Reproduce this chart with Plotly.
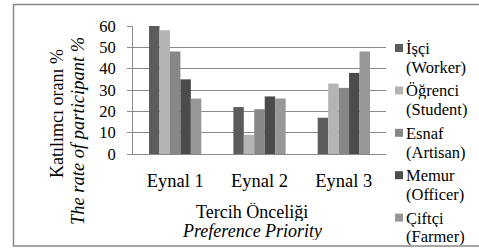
import plotly.graph_objects as go

categories = ["Eynal 1", "Eynal 2", "Eynal 3"]
series_tr = ["İşçi", "Öğrenci", "Esnaf", "Memur", "Çiftçi"]
series_en = ["(Worker)", "(Student)", "(Artisan)", "(Officer)", "(Farmer)"]
isci = [60, 22, 17]
ogrenci = [58, 9, 33]
esnaf = [48, 21, 31]
memur = [35, 27, 38]
ciftci = [26, 26, 48]
y_ticks = [0, 10, 20, 30, 40, 50, 60]

values = [isci, ogrenci, esnaf, memur, ciftci]
colors = ["#5c5c5c", "#b4b4b4", "#878787", "#4b4b4b", "#979797"]

W, H = 479, 249
L, R, T, B = 133, 93, 26, 95
pw, ph = W - L - R, H - T - B

def px(x):
    return (x - L) / pw

def py(y):
    return (H - B - y) / ph

FONT = "Liberation Serif"

fig = go.Figure()
for tr, en, vals, c in zip(series_tr, series_en, values, colors):
    fig.add_trace(go.Bar(x=categories, y=vals, name=f"{tr} {en}",
                         marker=dict(color=c, line=dict(width=0))))

fig.update_layout(
    width=W, height=H,
    margin=dict(l=L, r=R, t=T, b=B, pad=0, autoexpand=False),
    paper_bgcolor="white", plot_bgcolor="white",
    barmode="group", bargap=0.38, bargroupgap=0,
    font=dict(family=FONT, size=16, color="black"),
    showlegend=False,
    xaxis=dict(showgrid=False, showline=True, linecolor="#8a8a8a", linewidth=1,
               ticks="", tickfont=dict(family=FONT, size=18.5, color="black"),
               ticklabelstandoff=10, fixedrange=True),
    yaxis=dict(range=[0, 60], tickvals=y_ticks, showgrid=True, gridcolor="#8a8a8a",
               gridwidth=1, showline=True, linecolor="#8a8a8a", linewidth=1,
               ticks="outside", ticklen=5, tickcolor="#8a8a8a",
               tickfont=dict(family=FONT, size=16.5, color="black"),
               ticklabelstandoff=8, zeroline=False, fixedrange=True),
)

# legend drawn as text + swatches, built from the series lists
for i, (tr, en, c) in enumerate(zip(series_tr, series_en, colors)):
    y0 = 48 + i * 42.4
    fig.add_shape(type="rect", xref="paper", yref="paper",
                  x0=px(395), x1=px(403), y0=py(y0 + 4), y1=py(y0 - 4),
                  line=dict(width=0), fillcolor=c)
    fig.add_annotation(text=tr, xref="paper", yref="paper", x=px(404), y=py(y0),
                       showarrow=False, xanchor="left", yanchor="middle", height=18,
                       font=dict(family=FONT, size=16.5, color="black"))
    fig.add_annotation(text=en, xref="paper", yref="paper", x=px(404), y=py(y0 + 18.8),
                       showarrow=False, xanchor="left", yanchor="middle", height=18,
                       font=dict(family=FONT, size=16.5, color="black"))

fig.add_annotation(text="Katılımcı oranı %", xref="paper", yref="paper",
                   x=px(57), y=py(114), textangle=-90, showarrow=False,
                   font=dict(family=FONT, size=18, color="black"),
                   xanchor="center", yanchor="middle")
fig.add_annotation(text="<i>The rate of participant %</i>", xref="paper", yref="paper",
                   x=px(78), y=py(131), textangle=-90, showarrow=False,
                   font=dict(family=FONT, size=18.5, color="black"),
                   xanchor="center", yanchor="middle")
fig.add_annotation(text="Tercih Önceliği", xref="paper", yref="paper",
                   x=px(252), y=py(212), showarrow=False, height=18,
                   font=dict(family=FONT, size=18, color="black"),
                   xanchor="center", yanchor="middle")
fig.add_annotation(text="<i>Preference Priority</i>", xref="paper", yref="paper",
                   x=px(252), y=py(231), showarrow=False, height=18,
                   font=dict(family=FONT, size=18, color="black"),
                   xanchor="center", yanchor="middle")

fig.add_shape(type="rect", xref="paper", yref="paper",
              x0=px(13.5), x1=px(482), y0=py(246), y1=py(4.5),
              line=dict(color="#8a8a8a", width=1.5), fillcolor="rgba(0,0,0,0)", layer="below")

fig.write_html("out.html", config={"displayModeBar": False},
               post_script="document.body.style.margin='0px';")
